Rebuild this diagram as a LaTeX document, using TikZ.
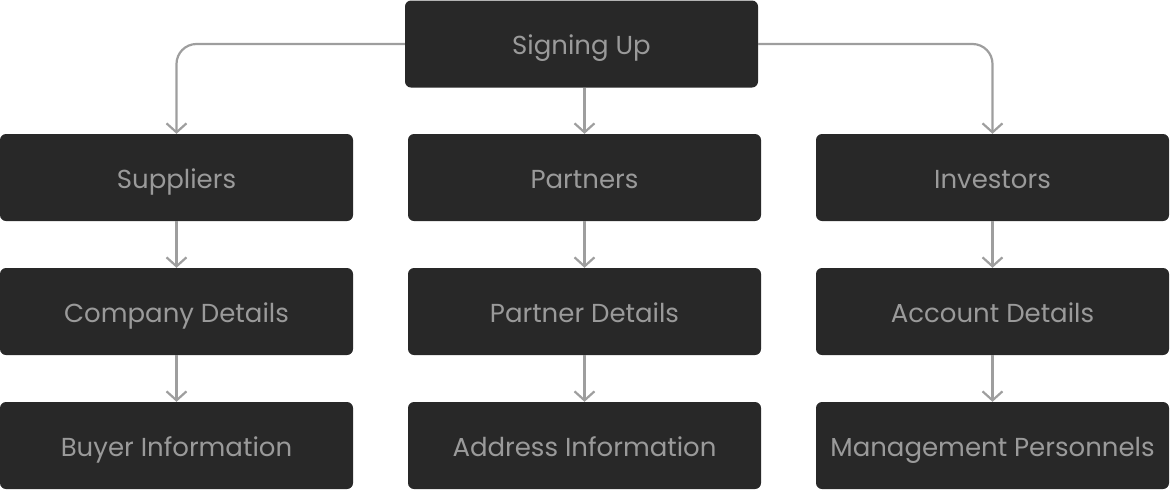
\documentclass[tikz,border=0pt]{standalone}
\usepackage{fontspec}
\setmainfont{Poppins}
\usetikzlibrary{arrows.meta,positioning}
\definecolor{boxfill}{HTML}{282828}
\definecolor{boxtext}{HTML}{9A9A9A}
\definecolor{linkgray}{HTML}{9E9E9E}

\begin{document}
\begin{tikzpicture}[
  x=1pt, y=-1pt,
  card/.style={fill=boxfill, rounded corners=6pt, minimum width=353pt,
    minimum height=87pt, inner sep=0pt, text=boxtext,
    text height=21pt, text depth=0pt,
    font=\fontsize{26}{30}\selectfont},
  link/.style={draw=linkgray, line width=2.2pt, rounded corners=20pt,
    -{Straight Barb[length=9pt,width=20pt]}}
]
  \useasboundingbox (0,0) rectangle (1170,491);

  % Top
  \node[card] (sign) at (581.5,44) {Signing Up};

  % Suppliers column
  \node[card] (supp) at (176.5,177.5) {Suppliers};
  \node[card] (comp) at (176.5,311.5) {Company Details};
  \node[card] (buyer) at (176.5,445.5) {Buyer Information};

  % Partners column
  \node[card] (part) at (584.5,177.5) {Partners};
  \node[card] (pdet) at (584.5,311.5) {Partner Details};
  \node[card] (addr) at (584.5,445.5) {Address Information};

  % Investors column
  \node[card] (inv) at (992.5,177.5) {Investors};
  \node[card] (acct) at (992.5,311.5) {Account Details};
  \node[card] (mgmt) at (992.5,445.5) {Management Personnels};

  % Links
  \draw[link] (sign.west) -| (supp.north);
  \draw[link] (sign.east) -| (inv.north);
  \draw[link] (sign.south -| part.north) -- (part.north);
  \draw[link] (supp) -- (comp);
  \draw[link] (comp) -- (buyer);
  \draw[link] (part) -- (pdet);
  \draw[link] (pdet) -- (addr);
  \draw[link] (inv) -- (acct);
  \draw[link] (acct) -- (mgmt);
\end{tikzpicture}
\end{document}
